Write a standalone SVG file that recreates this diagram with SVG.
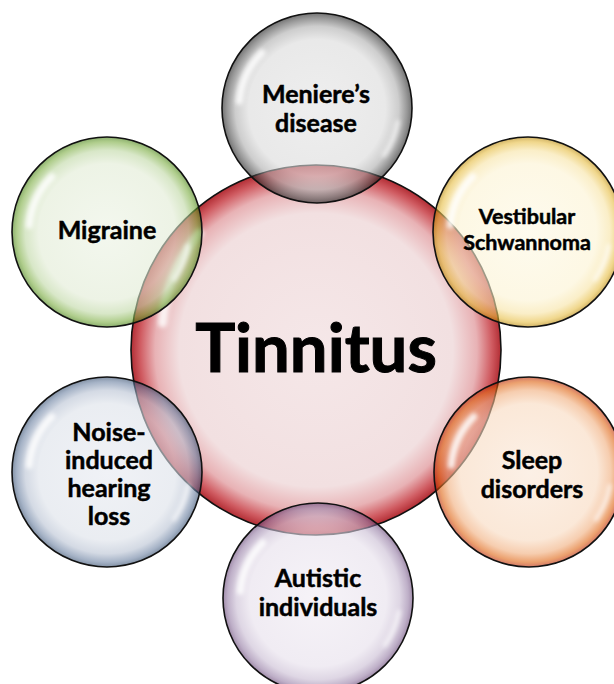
<svg xmlns="http://www.w3.org/2000/svg" xmlns:xlink="http://www.w3.org/1999/xlink" width="614" height="684" viewBox="0 0 614 684">
<style>
.lbl{font-family:Lato,"Open Sans","Liberation Sans",sans-serif;font-weight:700;font-size:25px;fill:#000;stroke:#000;stroke-width:0.5;text-anchor:middle}
.sm{font-size:21.5px}
.big{font-size:67px;stroke-width:1}
.rim{fill:none;stroke:#111;stroke-width:1.6}
</style>
<defs>
<filter id="blur" x="-50%" y="-50%" width="200%" height="200%"><feGaussianBlur stdDeviation="2"/></filter>
<radialGradient id="gTin"><stop offset="0" stop-color="#f5e7e8"/><stop offset="0.74" stop-color="#f2e0e1"/><stop offset="0.87" stop-color="#e8b2b5"/><stop offset="0.95" stop-color="#d05c62"/><stop offset="1" stop-color="#b22d34"/></radialGradient>
<radialGradient id="gGray"><stop offset="0" stop-color="#e3e3e3" stop-opacity="0.6"/><stop offset="0.72" stop-color="#dadada" stop-opacity="0.6"/><stop offset="0.86" stop-color="#acacac" stop-opacity="0.6"/><stop offset="0.95" stop-color="#505050" stop-opacity="0.6"/><stop offset="1" stop-color="#161616" stop-opacity="0.6"/></radialGradient>
<radialGradient id="gGreen"><stop offset="0" stop-color="#ebf2e3" stop-opacity="0.6"/><stop offset="0.72" stop-color="#e1ebd4" stop-opacity="0.6"/><stop offset="0.86" stop-color="#bed7a3" stop-opacity="0.6"/><stop offset="0.95" stop-color="#7aac3f" stop-opacity="0.6"/><stop offset="1" stop-color="#3f7a0d" stop-opacity="0.6"/></radialGradient>
<radialGradient id="gYellow"><stop offset="0" stop-color="#fdf8e3" stop-opacity="0.6"/><stop offset="0.72" stop-color="#fcf3d2" stop-opacity="0.6"/><stop offset="0.86" stop-color="#f7e3a3" stop-opacity="0.6"/><stop offset="0.95" stop-color="#e6bc3f" stop-opacity="0.6"/><stop offset="1" stop-color="#b48200" stop-opacity="0.6"/></radialGradient>
<radialGradient id="gBlue"><stop offset="0" stop-color="#e6e9f0" stop-opacity="0.6"/><stop offset="0.72" stop-color="#dce1e9" stop-opacity="0.6"/><stop offset="0.86" stop-color="#b7c1d2" stop-opacity="0.6"/><stop offset="0.95" stop-color="#697fa0" stop-opacity="0.6"/><stop offset="1" stop-color="#2f4869" stop-opacity="0.6"/></radialGradient>
<radialGradient id="gOrange"><stop offset="0" stop-color="#fae6d5" stop-opacity="0.6"/><stop offset="0.72" stop-color="#f8d9be" stop-opacity="0.6"/><stop offset="0.86" stop-color="#f0ac7a" stop-opacity="0.6"/><stop offset="0.95" stop-color="#de610d" stop-opacity="0.6"/><stop offset="1" stop-color="#b41e00" stop-opacity="0.6"/></radialGradient>
<radialGradient id="gLav"><stop offset="0" stop-color="#f0ebf3" stop-opacity="0.6"/><stop offset="0.72" stop-color="#e6dfeb" stop-opacity="0.6"/><stop offset="0.86" stop-color="#c8bbd2" stop-opacity="0.6"/><stop offset="0.95" stop-color="#937aa3" stop-opacity="0.6"/><stop offset="1" stop-color="#613f71" stop-opacity="0.6"/></radialGradient>
<g id="hl" filter="url(#blur)" fill="none" stroke="#fff" stroke-linecap="round">
<path d="M -77.7 -6.8 A 78 78 0 0 1 -55.2 -55.2" stroke-width="7" stroke-opacity="0.85"/>
<path d="M 80.8 14.2 A 82 82 0 0 1 67.2 47" stroke-width="5" stroke-opacity="0.6"/>
</g>
</defs>
<g id="tinnitus">
<circle cx="316" cy="350" r="185" fill="url(#gTin)"/>
<path d="M 162.5 323 A 165 165 0 0 1 199.3 233.3" fill="none" stroke="#fff" stroke-width="9" stroke-opacity="0.8" stroke-linecap="round" filter="url(#blur)"/>
<circle class="rim" cx="316" cy="350" r="185"/>
<text class="lbl big" x="316" y="372">Tinnitus</text>
</g>
<g id="connectors"/>
<g id="meniere">
<circle cx="317" cy="108" r="95" fill="url(#gGray)"/>
<use xlink:href="#hl" x="317" y="108"/>
<circle class="rim" cx="317" cy="108" r="95"/>
<text class="lbl" x="316" y="103">Meniere’s</text>
<text class="lbl" x="316" y="132">disease</text>
</g>
<g id="migraine">
<circle cx="107" cy="232" r="95" fill="url(#gGreen)"/>
<use xlink:href="#hl" x="107" y="232"/>
<circle class="rim" cx="107" cy="232" r="95"/>
<text class="lbl" x="107" y="239">Migraine</text>
</g>
<g id="vestibular">
<circle cx="528" cy="232" r="95" fill="url(#gYellow)"/>
<use xlink:href="#hl" x="528" y="232"/>
<circle class="rim" cx="528" cy="232" r="95"/>
<text class="lbl sm" x="527" y="224">Vestibular</text>
<text class="lbl sm" x="527" y="250">Schwannoma</text>
</g>
<g id="noise">
<circle cx="107" cy="472" r="95" fill="url(#gBlue)"/>
<use xlink:href="#hl" x="107" y="472"/>
<circle class="rim" cx="107" cy="472" r="95"/>
<text class="lbl" x="109" y="441">Noise-</text>
<text class="lbl" x="109" y="469">induced</text>
<text class="lbl" x="109" y="497">hearing</text>
<text class="lbl" x="109" y="525">loss</text>
</g>
<g id="sleep">
<circle cx="529" cy="472" r="95" fill="url(#gOrange)"/>
<use xlink:href="#hl" x="529" y="472"/>
<circle class="rim" cx="529" cy="472" r="95"/>
<text class="lbl" x="532" y="469">Sleep</text>
<text class="lbl" x="532" y="498">disorders</text>
</g>
<g id="autistic">
<circle cx="318" cy="598" r="95" fill="url(#gLav)"/>
<use xlink:href="#hl" x="318" y="598"/>
<circle class="rim" cx="318" cy="598" r="95"/>
<text class="lbl" x="318" y="587">Autistic</text>
<text class="lbl" x="318" y="616">individuals</text>
</g>
</svg>
